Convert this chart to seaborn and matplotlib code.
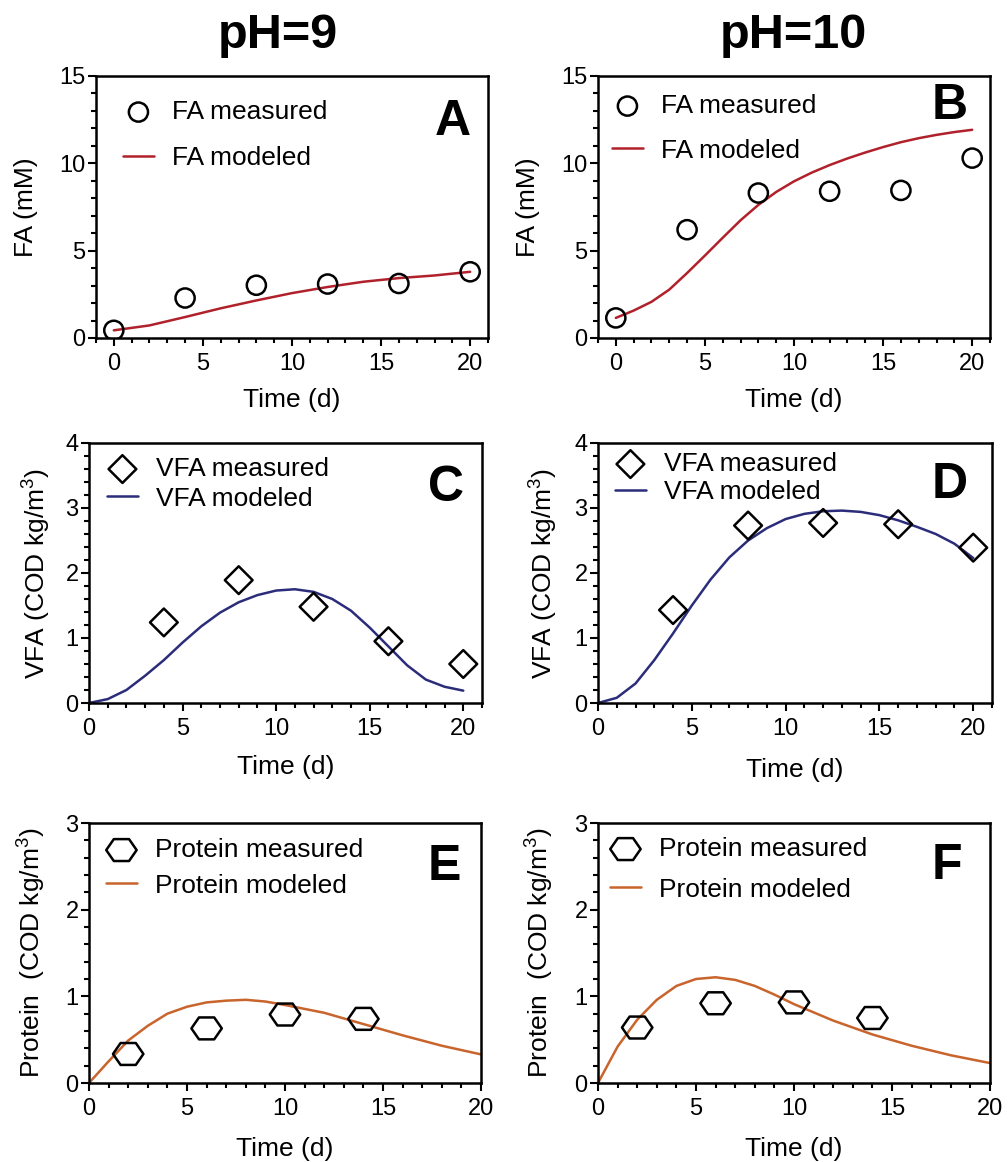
import matplotlib
matplotlib.use('Agg')
import matplotlib.pyplot as plt
from matplotlib.path import Path
from matplotlib.ticker import MultipleLocator
import seaborn as sns

# measured data
fa_t = [0, 4, 8, 12, 16, 20]
fa_ph9 = [0.44, 2.29, 3.02, 3.09, 3.12, 3.79]
fa_ph10 = [1.15, 6.2, 8.3, 8.4, 8.45, 10.3]

vfa_t = [4, 8, 12, 16, 20]
vfa_ph9 = [1.24, 1.89, 1.48, 0.95, 0.6]
vfa_ph10 = [1.43, 2.73, 2.77, 2.75, 2.39]

prot_t = [2, 6, 10, 14]
prot_ph9 = [0.335, 0.63, 0.79, 0.74]
prot_ph10 = [0.64, 0.92, 0.93, 0.75]

# modeled curves
fa9_mod_t = [0, 2, 4, 6, 8, 10, 12, 14, 16, 18, 20]
fa9_mod = [0.44, 0.72, 1.2, 1.7, 2.15, 2.57, 2.92, 3.22, 3.43, 3.58, 3.79]
day_t = list(range(21))
fa10_mod = [1.15, 1.57, 2.07, 2.77, 3.72, 4.72, 5.74, 6.74, 7.62, 8.36, 8.97,
            9.47, 9.9, 10.28, 10.62, 10.93, 11.21, 11.44, 11.63, 11.79, 11.92]
vfa9_mod = [0, 0.06, 0.2, 0.42, 0.66, 0.93, 1.18, 1.39, 1.55, 1.66, 1.73,
            1.75, 1.71, 1.6, 1.42, 1.16, 0.87, 0.58, 0.36, 0.25, 0.19]
vfa10_mod = [0, 0.08, 0.3, 0.66, 1.07, 1.5, 1.9, 2.24, 2.5, 2.69, 2.83,
             2.91, 2.95, 2.96, 2.94, 2.89, 2.81, 2.71, 2.6, 2.45, 2.23]
prot_mod_t = [0, 1, 2, 3, 4, 5, 6, 7, 8, 9, 10, 12, 14, 16, 18, 20]
prot9_mod = [0, 0.25, 0.49, 0.66, 0.8, 0.88, 0.93, 0.95, 0.96, 0.94, 0.9,
             0.81, 0.68, 0.55, 0.43, 0.33]
prot10_mod = [0, 0.42, 0.73, 0.96, 1.12, 1.2, 1.22, 1.19, 1.12, 1.02, 0.91,
              0.72, 0.56, 0.43, 0.32, 0.23]

sns.set_style('ticks')
plt.rcParams['font.family'] = ['Liberation Sans', 'DejaVu Sans']
plt.rcParams['mathtext.fontset'] = 'custom'
plt.rcParams['mathtext.rm'] = 'Liberation Sans'
plt.rcParams['text.color'] = 'black'
plt.rcParams['axes.labelcolor'] = 'black'
plt.rcParams['xtick.color'] = 'black'
plt.rcParams['ytick.color'] = 'black'

W, H = 1008, 1162
fig = plt.figure(figsize=(W / 100, H / 100), dpi=100)

hexagon = Path([(-1, 0), (-0.5, 0.72), (0.5, 0.72), (1, 0), (0.5, -0.72),
                (-0.5, -0.72), (-1, 0)], closed=True)

red, navy, orange = '#B0212B', '#2B2D7A', '#C8642C'
vfa_lab = 'VFA (COD kg/m$^3$)'
prot_lab = 'Protein  (COD kg/m$^3$)'

panels = [
    dict(L='A', box=(96, 76, 488, 338), mx=fa_t, my=fa_ph9, lx=fa9_mod_t, ly=fa9_mod,
         c=red, name='FA', mk='o', s=190, ylim=15, ymaj=5, ymin=1, xlim=(-1, 21),
         ylab='FA (mM)', ylx=26, xlt=388, leg=(123, 100), lsp=0.85, let=(453, 122)),
    dict(L='B', box=(598, 76, 990, 338), mx=fa_t, my=fa_ph10, lx=day_t, ly=fa10_mod,
         c=red, name='FA', mk='o', s=190, ylim=15, ymaj=5, ymin=1, xlim=(-1, 21),
         ylab='FA (mM)', ylx=528, xlt=388, leg=(612, 94), lsp=0.78, let=(950, 106)),
    dict(L='C', box=(89, 443, 482, 703), mx=vfa_t, my=vfa_ph9, lx=day_t, ly=vfa9_mod,
         c=navy, name='VFA', mk='D', s=200, ylim=4, ymaj=1, ymin=0.2, xlim=(0, 21),
         ylab=vfa_lab, ylx=36, xlt=755, leg=(107, 457), lsp=0.21, let=(446, 488)),
    dict(L='D', box=(598, 443, 992, 703), mx=vfa_t, my=vfa_ph10, lx=day_t, ly=vfa10_mod,
         c=navy, name='VFA', mk='D', s=200, ylim=4, ymaj=1, ymin=0.2, xlim=(0, 21),
         ylab=vfa_lab, ylx=543, xlt=758, leg=(615, 452), lsp=0.15, let=(950, 485)),
    dict(L='E', box=(89, 823, 481, 1083), mx=prot_t, my=prot_ph9, lx=prot_mod_t, ly=prot9_mod,
         c=orange, name='Protein', mk=hexagon, s=480, ylim=3, ymaj=1, ymin=0.2, xlim=(0, 20),
         ylab=prot_lab, ylx=31, xlt=1137, leg=(106, 838), lsp=0.44, let=(444, 867)),
    dict(L='F', box=(598, 823, 990, 1083), mx=prot_t, my=prot_ph10, lx=prot_mod_t, ly=prot10_mod,
         c=orange, name='Protein', mk=hexagon, s=480, ylim=3, ymaj=1, ymin=0.2, xlim=(0, 20),
         ylab=prot_lab, ylx=539, xlt=1137, leg=(610, 837), lsp=0.63, let=(947, 866)),
]

for p in panels:
    x0, y0, x1, y1 = p['box']
    ax = fig.add_axes([x0 / W, 1 - y1 / H, (x1 - x0) / W, (y1 - y0) / H])
    sns.scatterplot(x=p['mx'], y=p['my'], ax=ax, marker=p['mk'], s=p['s'],
                    label=f"{p['name']} measured", zorder=3)
    pts = ax.collections[-1]
    pts.set_facecolor('none')
    pts.set_edgecolor('black')
    pts.set_linewidth(1.8)
    sns.lineplot(x=p['lx'], y=p['ly'], ax=ax, color=p['c'], lw=1.8,
                 label=f"{p['name']} modeled", sort=False, zorder=2)

    ax.set_xlim(*p['xlim'])
    ax.set_ylim(0, p['ylim'])
    ax.xaxis.set_major_locator(MultipleLocator(5))
    ax.xaxis.set_minor_locator(MultipleLocator(1))
    ax.yaxis.set_major_locator(MultipleLocator(p['ymaj']))
    ax.yaxis.set_minor_locator(MultipleLocator(p['ymin']))
    ax.tick_params(which='both', direction='out', width=1.5, colors='black',
                   labelsize=17)
    ax.tick_params(which='major', length=6)
    ax.tick_params(which='minor', length=3.5)
    ax.tick_params(axis='x', which='both', pad=5)
    ax.tick_params(axis='y', which='both', pad=1.5)
    for sp in ax.spines.values():
        sp.set_linewidth(1.8)
        sp.set_color('black')

    ax.set_xlabel('Time (d)', fontsize=19)
    ax.set_ylabel(p['ylab'], fontsize=19)
    ax.yaxis.label.set_va('center')
    ax.yaxis.set_label_coords((p['ylx'] - x0) / (x1 - x0), 0.5)
    ax.xaxis.set_label_coords(0.5, -(p['xlt'] - y1) / (y1 - y0))

    lx, ly = p['leg']
    ax.legend(loc='upper left', bbox_to_anchor=(lx / W, 1 - ly / H),
              bbox_transform=fig.transFigure, frameon=False, fontsize=19,
              borderpad=0, borderaxespad=0, handlelength=1.17,
              handletextpad=0.68, labelspacing=p['lsp'])

    tx, ty = p['let']
    fig.text(tx / W, 1 - ty / H, p['L'], fontsize=36, fontweight='bold',
             ha='center', va='center')

fig.text(278 / W, 1 - 36 / H, 'pH=9', fontsize=35, fontweight='bold',
         ha='center', va='center')
fig.text(793 / W, 1 - 36 / H, 'pH=10', fontsize=35, fontweight='bold',
         ha='center', va='center')

fig.savefig('out.png', dpi=100)
